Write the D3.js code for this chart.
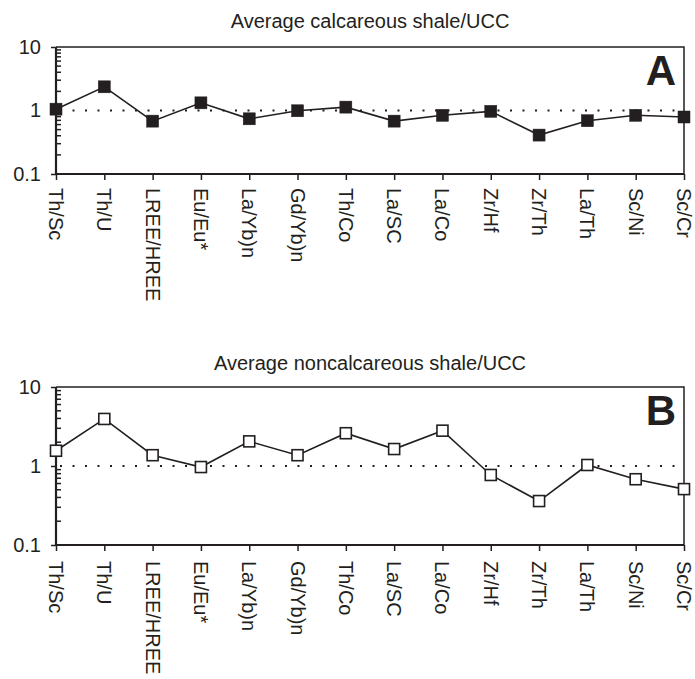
<!DOCTYPE html>
<html>
<head>
<meta charset="utf-8">
<script src="https://cdn.jsdelivr.net/npm/d3@7"></script>
<style>
    body { margin: 0; background: #fff; }
    svg { display: block; font-family: "Liberation Sans", Arial, Helvetica, sans-serif; }
</style>
</head>
<body>
<svg id="chart" width="695" height="679"></svg>
<script>
// element ratios along the x axis
const categories = ['Th/Sc', 'Th/U', 'LREE/HREE', 'Eu/Eu*', 'La/Yb)n', 'Gd/Yb)n', 'Th/Co',
    'La/SC', 'La/Co', 'Zr/Hf', 'Zr/Th', 'La/Th', 'Sc/Ni', 'Sc/Cr'];

// average calcareous shale / UCC
const calcareousValues = [1.05, 2.36, 0.68, 1.32, 0.74, 0.99, 1.13,
    0.68, 0.84, 0.97, 0.41, 0.69, 0.84, 0.79];

// average noncalcareous shale / UCC
const noncalcareousValues = [1.56, 3.94, 1.37, 0.97, 2.05, 1.37, 2.6,
    1.64, 2.8, 0.77, 0.36, 1.03, 0.68, 0.51];

const yTickValues = [0.1, 1, 10];
const yTickLabels = ['0.1', '1', '10'];

const ink = '#231f20';
const svg = d3.select('#chart');

const drawPanel = (opts) => {
    const {top, bottom, left, right, values, filled, title, titleY, letter, letterY, labelGap} = opts;

    const x = d3.scalePoint()
        .domain(categories)
        .range([left, right]);

    const y = d3.scaleLog()
        .domain([0.1, 10])
        .range([bottom, top]);

    const g = svg.append('g');

    // title
    g.append('text')
        .attr('x', 370)
        .attr('y', titleY)
        .attr('text-anchor', 'middle')
        .style('font-size', '20px')
        .attr('fill', ink)
        .text(title);

    // frame (top + right)
    g.append('path')
        .attr('d', `M${left},${top}H${right}V${bottom}`)
        .attr('fill', 'none')
        .attr('stroke', ink)
        .attr('stroke-width', 1.5);

    // reference line at 1
    g.append('line')
        .attr('x1', left + 4)
        .attr('x2', right)
        .attr('y1', y(1))
        .attr('y2', y(1))
        .attr('stroke', ink)
        .attr('stroke-width', 2)
        .attr('stroke-dasharray', '2,10.5');

    // y axis: major ticks outside, minor ticks inside
    const minor = [];
    [0.1, 1].forEach((d) => {
        for (let k = 2; k <= 9; k++) minor.push(d * k);
    });
    g.selectAll('.minor')
        .data(minor)
        .enter().append('line')
        .attr('class', 'minor')
        .attr('x1', left)
        .attr('x2', left + 5)
        .attr('y1', (d) => y(d))
        .attr('y2', (d) => y(d))
        .attr('stroke', ink)
        .attr('stroke-width', 1.5);

    const yAxis = d3.axisLeft(y)
        .tickValues(yTickValues)
        .tickFormat((d, i) => yTickLabels[i])
        .tickSize(5)
        .tickPadding(10);
    const ya = g.append('g')
        .attr('transform', `translate(${left},0)`)
        .call(yAxis);
    ya.select('.domain').attr('stroke', ink).attr('stroke-width', 2.2).attr('d', `M0,${top}V${bottom}`);
    ya.selectAll('.tick line').attr('stroke', ink).attr('stroke-width', 1.5);
    ya.selectAll('.tick text')
        .style('font-size', '20px')
        .style('font-family', '"Liberation Sans", Arial, sans-serif')
        .attr('fill', ink);

    // x axis
    const xAxis = d3.axisBottom(x)
        .tickSize(6)
        .tickFormat('');
    const xa = g.append('g')
        .attr('transform', `translate(0,${bottom})`)
        .call(xAxis);
    xa.select('.domain').attr('stroke', ink).attr('stroke-width', 2.2).attr('d', `M${left},0H${right}`);
    xa.selectAll('.tick line').attr('stroke', ink).attr('stroke-width', 1.5);

    // rotated category labels, reading top to bottom
    g.selectAll('.cat')
        .data(categories)
        .enter().append('text')
        .attr('class', 'cat')
        .attr('transform', (d) => `translate(${x(d)},${bottom + labelGap}) rotate(90)`)
        .attr('dy', '0.35em')
        .style('font-size', '20px')
        .attr('fill', ink)
        .text((d) => d);

    // series line
    const line = d3.line()
        .x((d, i) => x(categories[i]))
        .y((d) => y(d));
    g.append('path')
        .datum(values)
        .attr('d', line)
        .attr('fill', 'none')
        .attr('stroke', ink)
        .attr('stroke-width', 1.6);

    // markers
    const size = filled ? 12 : 11;
    g.selectAll('.mark')
        .data(values)
        .enter().append('rect')
        .attr('class', 'mark')
        .attr('x', (d, i) => x(categories[i]) - size / 2)
        .attr('y', (d) => y(d) - size / 2)
        .attr('width', size)
        .attr('height', size)
        .attr('fill', filled ? ink : '#fff')
        .attr('stroke', ink)
        .attr('stroke-width', filled ? 0.5 : 1.6);

    // panel letter
    g.append('text')
        .attr('x', 676)
        .attr('y', letterY)
        .attr('text-anchor', 'end')
        .style('font-size', '42px')
        .style('font-weight', 'bold')
        .attr('fill', ink)
        .text(letter);
};

drawPanel({
    top: 47, bottom: 174, left: 56, right: 684,
    values: calcareousValues, filled: true,
    title: 'Average calcareous shale/UCC', titleY: 28,
    letter: 'A', letterY: 85, labelGap: 14
});

drawPanel({
    top: 387, bottom: 545, left: 56, right: 684,
    values: noncalcareousValues, filled: false,
    title: 'Average noncalcareous shale/UCC', titleY: 370,
    letter: 'B', letterY: 425, labelGap: 16
});
</script>
</body>
</html>
